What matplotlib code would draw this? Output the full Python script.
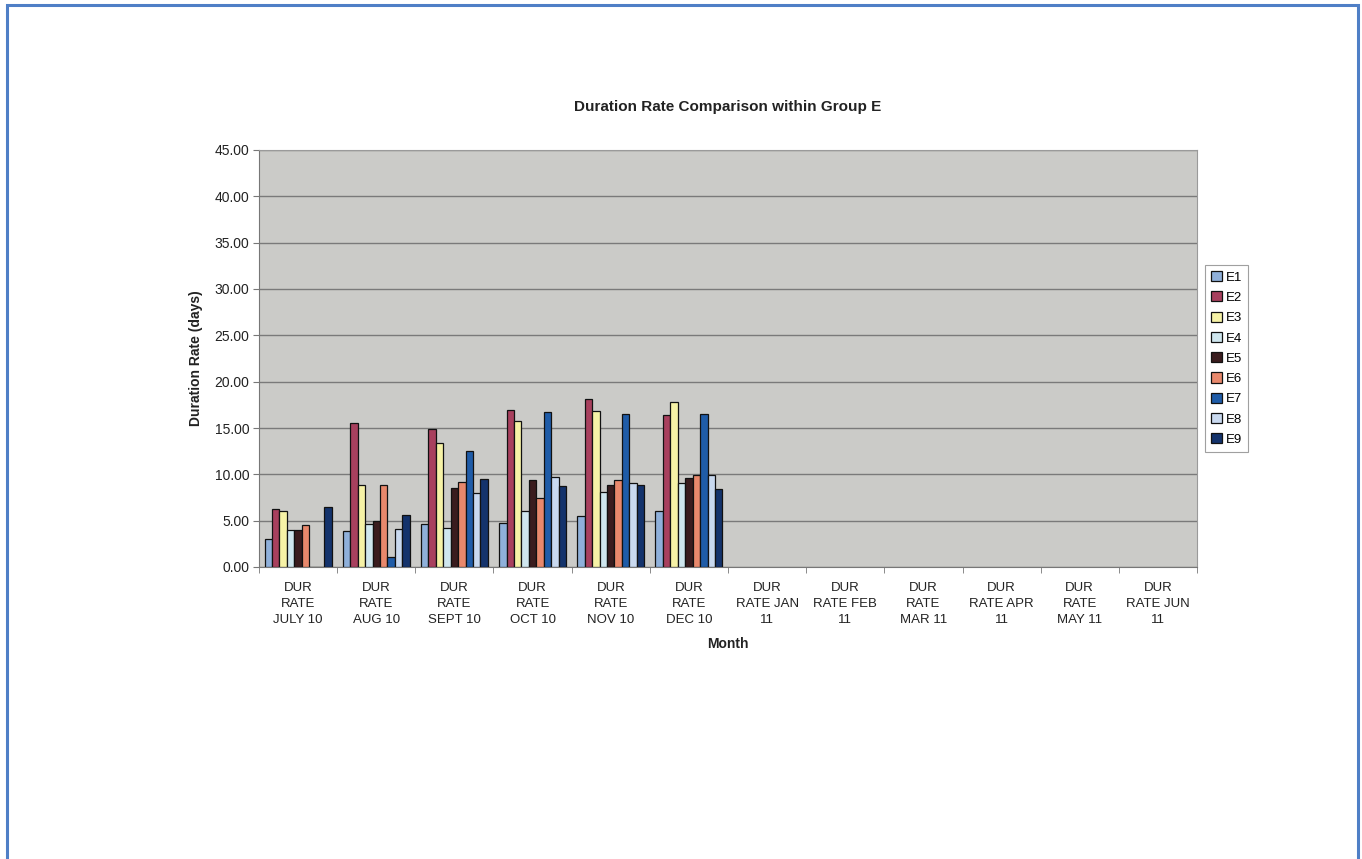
import matplotlib
matplotlib.use("Agg")
import matplotlib.pyplot as plt
import numpy as np
from matplotlib.patches import Rectangle

# ------------------------------------------------------------
# Daten
# ------------------------------------------------------------
months = [
    "DUR\nRATE\nJULY 10", "DUR\nRATE\nAUG 10", "DUR\nRATE\nSEPT 10",
    "DUR\nRATE\nOCT 10", "DUR\nRATE\nNOV 10", "DUR\nRATE\nDEC 10",
    "DUR\nRATE JAN\n11", "DUR\nRATE FEB\n11", "DUR\nRATE\nMAR 11",
    "DUR\nRATE APR\n11", "DUR\nRATE\nMAY 11", "DUR\nRATE JUN\n11",
]
series_names = ["E1", "E2", "E3", "E4", "E5", "E6", "E7", "E8", "E9"]

# Werte Juli - Dezember 10 (Jan - Jun 11 noch leer)
E1 = [3.0, 3.9, 4.6, 4.8, 5.5, 6.0]
E2 = [6.3, 15.5, 14.9, 16.9, 18.1, 16.4]
E3 = [6.0, 8.8, 13.4, 15.8, 16.8, 17.8]
E4 = [4.0, 4.6, 4.2, 6.0, 8.1, 9.1]
E5 = [4.0, 5.0, 8.5, 9.4, 8.9, 9.6]
E6 = [4.5, 8.9, 9.2, 7.4, 9.4, 9.9]
E7 = [0.0, 1.1, 12.5, 16.7, 16.5, 16.5]
E8 = [0.0, 4.1, 8.0, 9.7, 9.1, 9.9]
E9 = [6.5, 5.6, 9.5, 8.7, 8.8, 8.4]
series_values = [E1, E2, E3, E4, E5, E6, E7, E8, E9]

yticks = np.arange(0, 45.01, 5)

colors = ["#8fb0da", "#a8405e", "#f6f2a6", "#cfe6ee", "#3a1c1e",
          "#e8886c", "#1f5ca8", "#c9d9ef", "#14336c"]

# ------------------------------------------------------------
# Plot
# ------------------------------------------------------------
plt.rcParams["font.family"] = ["Liberation Sans", "DejaVu Sans"]

fig = plt.figure(figsize=(13.62, 8.59), dpi=100)
fig.patch.set_facecolor("white")

# blauer Rahmen um die Seite
fig.patches.append(Rectangle((7 / 1362, -0.02), (1358 - 7) / 1362, 1.02 - 5 / 859,
                             transform=fig.transFigure, fill=False,
                             edgecolor="#4f7fc6", linewidth=2.2))

ax = fig.add_axes([259 / 1362, 1 - 567 / 859, (1197 - 259) / 1362, (567 - 150) / 859])
ax.set_facecolor("#cbcbc8")

n = len(series_names)
w = 1 / (n + 1.5)
x = np.arange(len(months))
for i, (name, vals) in enumerate(zip(series_names, series_values)):
    pos = x[:len(vals)] - 0.5 + 0.75 * w + i * w
    ax.bar(pos, vals, width=w, align="edge", color=colors[i],
           edgecolor="#111111", linewidth=0.9, label=name, zorder=3)

ax.set_xlim(-0.5, len(months) - 0.5)
ax.set_ylim(0, 45)
ax.set_yticks(yticks)
ax.set_yticklabels([f"{v:.2f}" for v in yticks], fontsize=10, color="#222222")
ax.yaxis.grid(True, color="#7a7a7a", linewidth=1.0, zorder=0)

ax.set_xticks(x)
ax.set_xticklabels(months, fontsize=9.5, color="#222222", linespacing=1.45)
ax.set_xticks(np.arange(-0.5, len(months)), minor=True)
ax.tick_params(axis="x", which="major", length=0, pad=11)
ax.tick_params(axis="x", which="minor", length=4, color="#777777")
ax.tick_params(axis="y", length=4, color="#777777", pad=3)

for side in ["top", "right"]:
    ax.spines[side].set_color("#9a9a9a")
for side in ["left", "bottom"]:
    ax.spines[side].set_color("#777777")

ax.set_title("Duration Rate Comparison within Group E", fontsize=11,
             fontweight="bold", color="#222222", pad=28)
ax.set_xlabel("Month", fontsize=10, fontweight="bold", color="#222222", labelpad=8)
ax.set_ylabel("Duration Rate (days)", fontsize=10, fontweight="bold", color="#222222",
              labelpad=8)

leg = ax.legend(loc="upper left", bbox_to_anchor=(1.009, 0.724), fontsize=9.5,
                frameon=True, fancybox=False, edgecolor="#888888",
                handlelength=0.8, handleheight=0.8, handletextpad=0.3,
                labelspacing=0.58, borderpad=0.45, borderaxespad=0)
leg.get_frame().set_linewidth(0.8)

plt.savefig("out.png", dpi=100, facecolor="white")
plt.close()
